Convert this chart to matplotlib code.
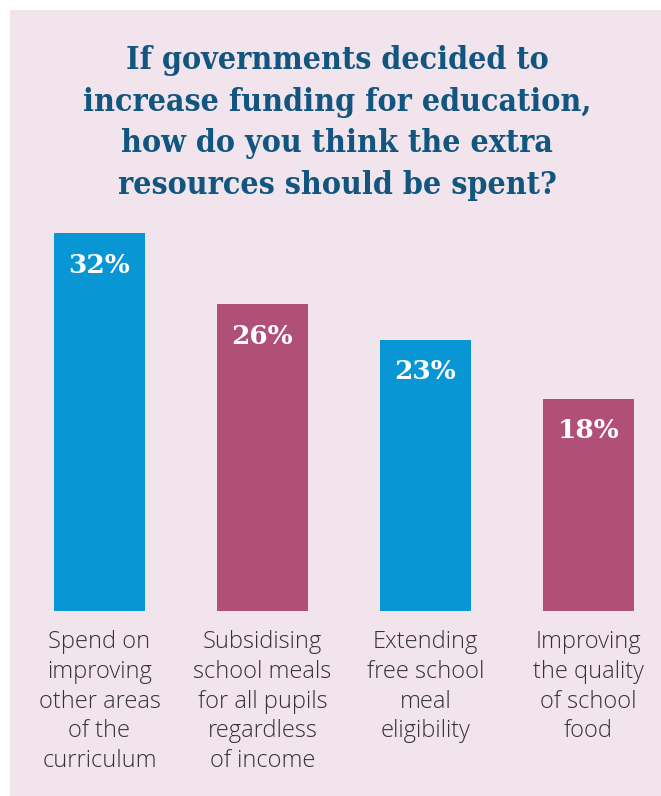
import matplotlib.pyplot as plt
from matplotlib.patches import Rectangle

# survey answers
categories = [
    "Spend on\nimproving\nother areas\nof the\ncurriculum",
    "Subsidising\nschool meals\nfor all pupils\nregardless\nof income",
    "Extending\nfree school\nmeal\neligibility",
    "Improving\nthe quality\nof school\nfood",
]
shares = [32, 26, 23, 18]
bar_colours = ["#0996d4", "#b05079", "#0996d4", "#b05079"]
title = ("If governments decided to\nincrease funding for education,\n"
         "how do you think the extra\nresources should be spent?")

W, H = 661, 796
fig = plt.figure(figsize=(W / 100, H / 100), dpi=100, facecolor="white")

# pink panel behind everything
fig.patches.append(Rectangle((10 / W, 0), 1 - 10 / W, (H - 10) / H,
                             transform=fig.transFigure, facecolor="#f2e4ec",
                             edgecolor="none", zorder=-5))

fig.text(0.51, 1 - 45 / H, title, ha="center", va="top",
         fontsize=23, fontweight="bold", family="DejaVu Serif",
         stretch="condensed", color="#12567f", linespacing=1.44)

# axes: baseline at 611px, 11.8px per percentage point
ax = fig.add_axes([10 / W, 185 / H, 651 / W, 391 / H])
ax.set_facecolor("none")
x = list(range(len(shares)))
ax.bar(x, shares, width=0.558, color=bar_colours)
ax.set_xlim(-0.549, 3.445)
ax.set_ylim(0, 391 / 11.8)

for xi, v in zip(x, shares):
    ax.annotate(f"{v}%", (xi, v), xytext=(0, -23), textcoords="offset points",
                ha="center", va="center", color="white", fontsize=19,
                fontweight="bold", family="DejaVu Serif")

ax.set_xticks(x)
ax.set_xticklabels(categories, fontsize=17, family="Open Sans",
                   fontweight="light", color="#333333", linespacing=1.31)
ax.tick_params(axis="x", length=0, pad=14)
ax.set_yticks([])
for s in ax.spines.values():
    s.set_visible(False)

fig.savefig("out.png", dpi=100, facecolor="white")
